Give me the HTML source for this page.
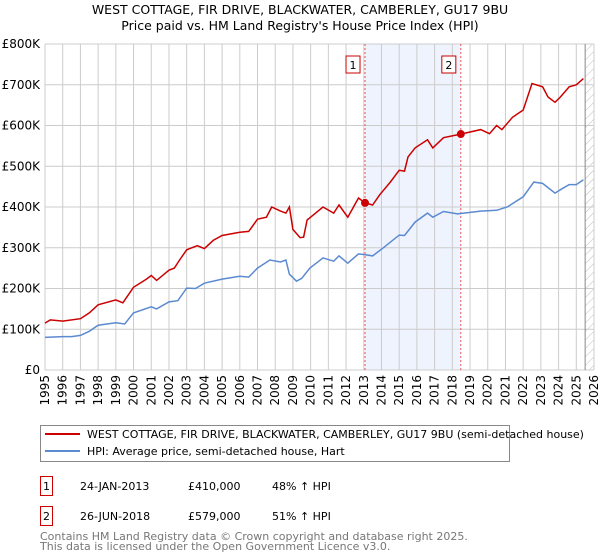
<!DOCTYPE html>
<html><head><meta charset="utf-8"><style>
body{margin:0;background:#fff;font-family:"Liberation Sans","DejaVu Sans",sans-serif;}
#wrap{position:relative;width:600px;height:560px;overflow:hidden}
svg text{font-family:"DejaVu Sans","Liberation Sans",sans-serif}
</style></head><body><div id="wrap">
<svg id="c" width="600" height="560"></svg>
</div>
<script>
const years=[];for(let y=1995;y<=2026;y++)years.push(y);
const yTicks=[0,100000,200000,300000,400000,500000,600000,700000,800000];
const yTickLabels=["£0","£100K","£200K","£300K","£400K","£500K","£600K","£700K","£800K"];
const hpiT=[1995,1996,1996.5,1997,1997.5,1998,1999,1999.5,2000,2001,2001.3,2002,2002.5,2003,2003.5,2004,2005,2006,2006.5,2007,2007.7,2008.3,2008.6,2008.8,2009.2,2009.5,2009.95,2010.7,2011.3,2011.6,2012.1,2012.7,2013.1,2013.5,2014.1,2015,2015.3,2015.9,2016.6,2016.9,2017.5,2018.3,2019.6,2020.5,2021.1,2022,2022.6,2023.1,2023.8,2024.2,2024.6,2025,2025.4];
const hpiV=[80000,82000,82000,85000,95000,110000,116000,113000,140000,155000,150000,167000,170000,201000,200000,213000,223000,230000,228000,250000,270000,265000,270000,235000,218000,225000,250000,275000,267000,280000,262000,285000,283000,280000,300000,331000,330000,363000,385000,375000,389000,383000,390000,392000,400000,425000,461000,458000,434000,445000,455000,455000,467000];
const redT=[1995,1995.3,1996,1997,1997.5,1998,1999,1999.4,2000,2000.7,2001,2001.3,2002,2002.3,2002.6,2003,2003.6,2004,2004.5,2005,2006,2006.5,2007,2007.5,2007.8,2008.3,2008.6,2008.8,2009,2009.4,2009.6,2009.8,2010.7,2011.3,2011.6,2012.1,2012.7,2013.07,2013.5,2013.9,2014.5,2015,2015.3,2015.5,2015.9,2016.6,2016.9,2017.5,2018.48,2019.6,2020.1,2020.5,2020.8,2021.4,2022,2022.5,2023.1,2023.4,2023.8,2024.1,2024.6,2025,2025.4];
const redV=[115000,123000,120000,126000,140000,160000,172000,165000,203000,222000,232000,220000,245000,250000,270000,295000,305000,298000,318000,330000,338000,340000,370000,375000,400000,390000,385000,400000,345000,325000,326000,368000,400000,385000,405000,375000,422000,410000,405000,430000,461000,490000,488000,523000,545000,565000,545000,570000,579000,590000,580000,600000,590000,620000,638000,703000,695000,670000,657000,670000,695000,700000,715000];
const saleT=[2013.07,2018.48];
const saleV=[410000,579000];
const saleLabels=["1","2"];

const NS="http://www.w3.org/2000/svg";
const svg=document.getElementById('c');
const L=45,R=594,T=44,B=370;
const X=t=>L+(t-1995)*(R-L)/31;
const Y=v=>B-v*(B-T)/800000;
function mk(tag,attrs,parent){const e=document.createElementNS(NS,tag);for(const k in attrs)e.setAttribute(k,attrs[k]);(parent||svg).appendChild(e);return e;}

let t=mk('text',{x:300,y:14,'text-anchor':'middle','font-size':12.5,fill:'#000'});t.textContent="WEST COTTAGE, FIR DRIVE, BLACKWATER, CAMBERLEY, GU17 9BU";

t=mk('text',{x:300,y:30,'text-anchor':'middle','font-size':12.5,fill:'#000'});t.textContent="Price paid vs. HM Land Registry's House Price Index (HPI)";


// shaded band
let band=mk('rect',{x:X(saleT[0]),y:T,width:X(saleT[1])-X(saleT[0]),height:B-T,fill:'#eef3fd'});

// hatch
const defs=mk('defs',{});
const pat=mk('pattern',{id:'h',patternUnits:'userSpaceOnUse',width:6,height:6,patternTransform:'rotate(45)'},defs);
mk('line',{x1:0,y1:0,x2:0,y2:6,stroke:'#bbb','stroke-width':1},pat);
let hr=mk('rect',{x:X(2025.5),y:T,width:R-X(2025.5),height:B-T,fill:'url(#h)'});


// grid
years.forEach(y=>{const l=mk('line',{x1:X(y),x2:X(y),y1:T,y2:B,stroke:'#cccccc','stroke-width':1});

const tx=mk('text',{x:0,y:0,'font-size':12,fill:'#000','text-anchor':'end',transform:`translate(${X(y)+4},${B+5}) rotate(-90)`});tx.textContent=y;
});
yTicks.forEach((v,i)=>{const l=mk('line',{x1:L,x2:R,y1:Y(v),y2:Y(v),stroke:'#cccccc','stroke-width':1});

const tx=mk('text',{x:40,y:Y(v)+4,'font-size':12,fill:'#000','text-anchor':'end'});tx.textContent=yTickLabels[i];
});
let ed=mk('line',{x1:X(2025.5),x2:X(2025.5),y1:T,y2:B,stroke:'#888','stroke-width':1});


// sale vlines
saleT.forEach((s,i)=>{const l=mk('line',{x1:X(s),x2:X(s),y1:T,y2:B,stroke:'#e55','stroke-width':1,'stroke-dasharray':'2,2'});

const r=mk('rect',{x:X(s)-19,y:56,width:14,height:17,fill:'#fff',stroke:'#c00','stroke-width':1});

const tx=mk('text',{x:X(s)-12,y:69,'font-size':11,'text-anchor':'middle',fill:'#000'});tx.textContent=saleLabels[i];
});

function path(ts,vs){return ts.map((tt,i)=>(i?'L':'M')+X(tt).toFixed(1)+','+Y(vs[i]).toFixed(1)).join('');}
let hp=mk('path',{d:path(hpiT,hpiV),fill:'none',stroke:'#5b8ad0','stroke-width':1.5});

let rp=mk('path',{d:path(redT,redV),fill:'none',stroke:'#cc0000','stroke-width':1.5});

saleT.forEach((s,i)=>{const c=mk('circle',{cx:X(s),cy:Y(saleV[i]),r:4,fill:'#cc0000'});
});

// legend
let lg=mk('rect',{x:40.5,y:425.5,width:469,height:36,fill:'#fff',stroke:'#888','stroke-width':1});

mk('line',{x1:45,x2:80,y1:434,y2:434,stroke:'#cc0000','stroke-width':2});
mk('line',{x1:45,x2:80,y1:451,y2:451,stroke:'#5b8ad0','stroke-width':2});
t=mk('text',{x:87,y:438,'font-size':11,fill:'#000'});t.textContent="WEST COTTAGE, FIR DRIVE, BLACKWATER, CAMBERLEY, GU17 9BU (semi-detached house)";

t=mk('text',{x:87,y:455,'font-size':11,fill:'#000'});t.textContent="HPI: Average price, semi-detached house, Hart";


// table
const rowsD=["24-JAN-2013","26-JUN-2018"],rowsP=["£410,000","£579,000"],rowsH=["48% ↑ HPI","51% ↑ HPI"];
[0,1].forEach(i=>{const y=476+i*30;
const r=mk('rect',{x:40.5,y:y+0.5,width:12,height:19,fill:'#fff',stroke:'#c00','stroke-width':1});

let a=mk('text',{x:46.5,y:y+14,'font-size':11,'text-anchor':'middle'});a.textContent=saleLabels[i];
a=mk('text',{x:80,y:y+14,'font-size':11});a.textContent=rowsD[i];
a=mk('text',{x:188,y:y+14,'font-size':11});a.textContent=rowsP[i];
a=mk('text',{x:272,y:y+14,'font-size':11});a.textContent=rowsH[i];});
t=mk('text',{x:40,y:540,'font-size':11,fill:'#777'});t.textContent="Contains HM Land Registry data © Crown copyright and database right 2025.";

t=mk('text',{x:40,y:550,'font-size':11,fill:'#777'});t.textContent="This data is licensed under the Open Government Licence v3.0.";

</script></body></html>
